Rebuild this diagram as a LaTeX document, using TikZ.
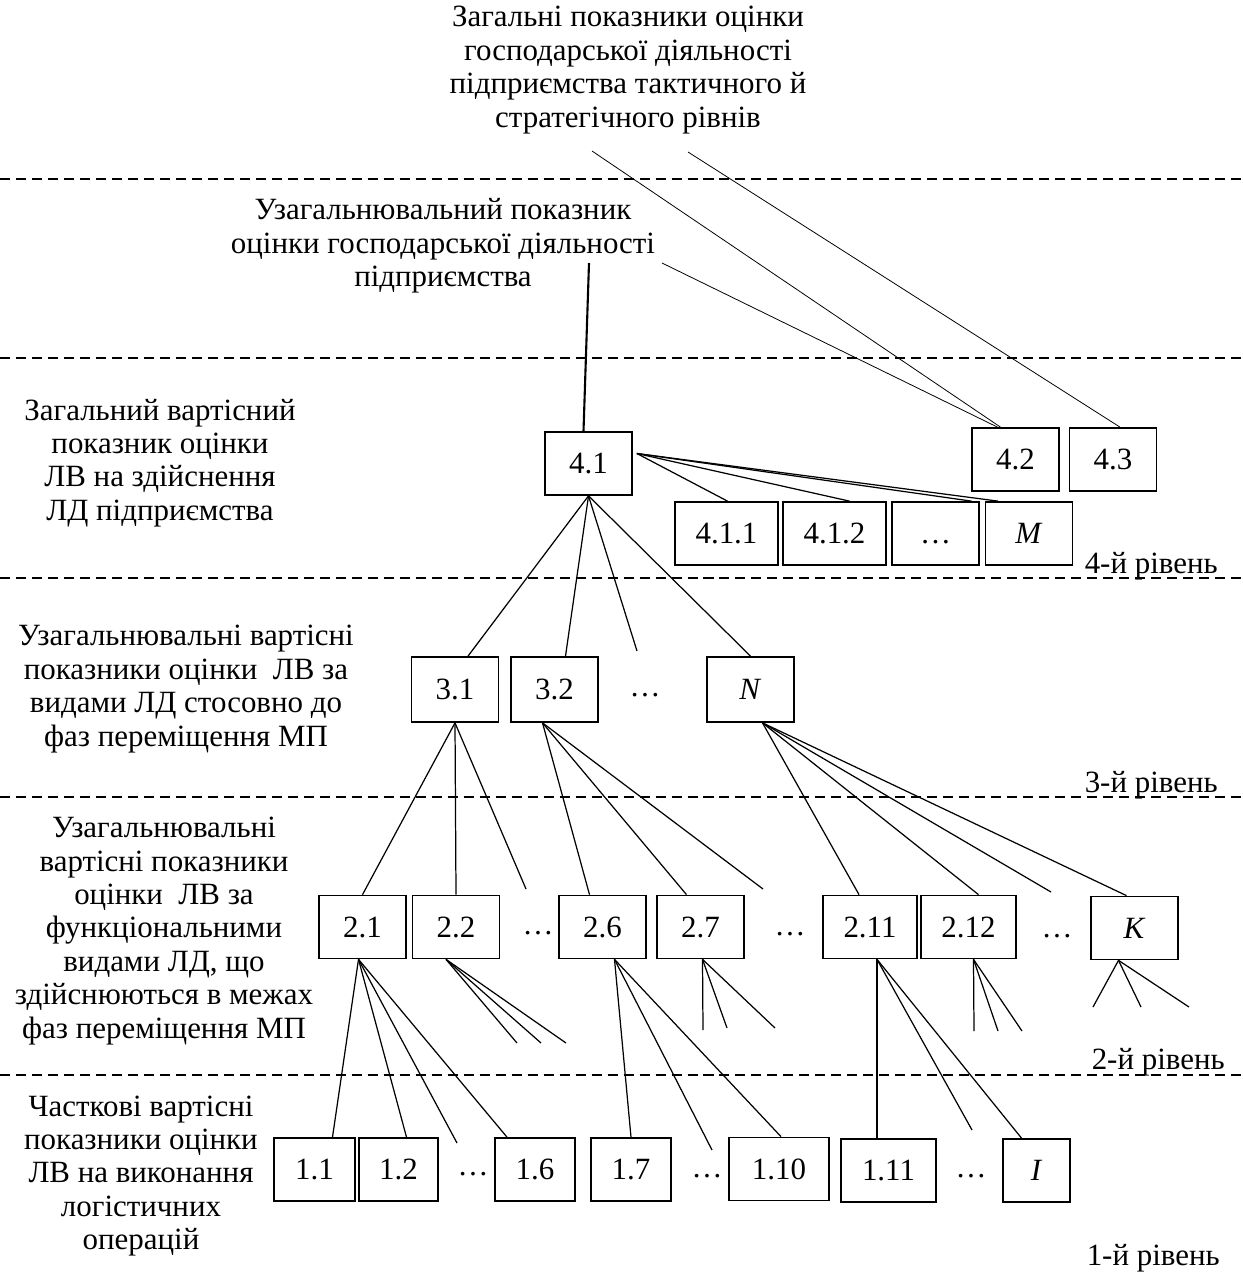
\documentclass[tikz,border=0pt]{standalone}
\usepackage{fontspec}
\setmainfont{Liberation Serif}
\usepackage{tikz}
\usetikzlibrary{calc}

\tikzset{
  box/.style={draw, line width=1pt, minimum width=1.74cm, minimum height=1.26cm, inner sep=0pt, text height=11.5pt, text depth=0pt},
  lbl/.style={align=center, inner sep=0pt},
  lvl/.style={dash pattern=on 5.7pt off 3.4pt, line width=0.8pt},
  con/.style={line width=0.7pt},
  thn/.style={line width=0.45pt}
}

\begin{document}
\begin{tikzpicture}[x=0.02cm, y=-0.02cm, font=\fontsize{17.6}{19}\selectfont]
\useasboundingbox (0,0) rectangle (1242,1284);
\draw[lvl] (0,179) -- (1242,179);
\draw[lvl] (0,358) -- (1242,358);
\draw[lvl] (0,578) -- (1242,578);
\draw[lvl] (0,797) -- (1242,797);
\draw[lvl] (0,1075) -- (1242,1075);

\node[lbl] (top) at (628,70) {Загальні показники оцінки\\господарської діяльності\\підприємства тактичного й\\стратегічного рівнів};
\node[lbl] (mid) at (443,246) {Узагальнювальний показник\\оцінки господарської діяльності\\підприємства};
\node[lbl] (txt4) at (160,463) {Загальний вартісний\\показник оцінки\\ЛВ на здійснення\\ЛД підприємства};
\node[lbl] (txt3) at (186,689) {Узагальнювальні вартісні\\показники оцінки~ ЛВ за\\видами ЛД стосовно до\\фаз переміщення МП};
\node[lbl] (txt2) at (164,931) {Узагальнювальні\\вартісні показники\\оцінки~ ЛВ за\\функціональними\\видами ЛД, що\\здійснюються в межах\\фаз переміщення МП};
\node[lbl] (txt1) at (141,1176) {Часткові вартісні\\показники оцінки\\ЛВ на виконання\\логістичних\\операцій};

\node[lbl, anchor=base east] (r4) at (1218,573) {4-й рівень};
\node[lbl, anchor=base east] (r3) at (1218,792) {3-й рівень};
\node[lbl, anchor=base east] (r2) at (1225,1069) {2-й рівень};
\node[lbl, anchor=base east] (r1) at (1220,1265) {1-й рівень};

\node[box] (b41) at (588.5,463.5) {4.1};
\node[box] (b42) at (1015.5,459.5) {4.2};
\node[box] (b43) at (1113,459.5) {4.3};
\node[box, minimum width=2.06cm] (b411) at (726.5,533.5) {4.1.1};
\node[box, minimum width=2.06cm] (b412) at (834.5,533.5) {4.1.2};
\node[box] (b4d) at (935.5,533.5) {…};
\node[box] (bM) at (1029,533.5) {\textit{M}};

\node[box, minimum height=1.3cm] (b31) at (455,689.5) {3.1};
\node[box, minimum height=1.3cm] (b32) at (554.5,689.5) {3.2};
\node[lbl] (d3) at (645,695) {…};
\node[box, minimum height=1.3cm] (bN) at (750.5,689.5) {\textit{N}};

\node[box] (b21) at (362.5,927) {2.1};
\node[box] (b22) at (456,927) {2.2};
\node[lbl] (d21) at (538,933) {…};
\node[box] (b26) at (602.5,927) {2.6};
\node[box] (b27) at (700.5,927) {2.7};
\node[lbl] (d22) at (790,934) {…};
\node[box, minimum width=1.88cm] (b211) at (870,927) {2.11};
\node[box, minimum width=1.9cm] (b212) at (968.5,927) {2.12};
\node[lbl] (d23) at (1057,936) {…};
\node[box] (bK) at (1134.5,928) {\textit{K}};

\node[box, minimum width=1.62cm] (b11) at (314.5,1169.5) {1.1};
\node[box, minimum width=1.58cm] (b12) at (398.5,1169.5) {1.2};
\node[lbl] (d11) at (473,1174) {…};
\node[box, minimum width=1.6cm] (b16) at (535,1169.5) {1.6};
\node[box, minimum width=1.6cm] (b17) at (631,1169.5) {1.7};
\node[lbl] (d12) at (707,1176) {…};
\node[box, minimum width=2cm] (b110) at (779,1169) {1.10};
\node[box, minimum width=1.9cm] (b111) at (888.5,1170.5) {1.11};
\node[lbl] (d13) at (971,1176) {…};
\node[box, minimum width=1.34cm] (bI) at (1036.5,1170.5) {\textit{I}};

\coordinate (s1) at (592,151);
\coordinate (s2) at (688,152);
\coordinate (m1) at (589,263);
\coordinate (m2) at (662,263);
\coordinate (f41) at (637,651);
\coordinate (f31) at (526,889);
\coordinate (f32) at (763,889);
\coordinate (fN) at (1051,892);
\coordinate (f21) at (457,1143);
\coordinate (f22a) at (517,1043);
\coordinate (f22b) at (541,1043);
\coordinate (f22c) at (566,1043);
\coordinate (f26) at (712,1150);
\coordinate (f27a) at (703,1030);
\coordinate (f27b) at (727,1028);
\coordinate (f27c) at (775,1028);
\coordinate (f211) at (972,1130);
\coordinate (f212a) at (974,1031);
\coordinate (f212b) at (998,1031);
\coordinate (f212c) at (1022,1031);
\coordinate (fKa) at (1093,1007);
\coordinate (fKb) at (1141,1007);
\coordinate (fKc) at (1189,1007);

\draw[line width=1.2pt] (m1) -- ($(b41.north)+(-5,0)$);
\draw[thn] (m2) -- ($(b42.north)+(-18,0)$);
\draw[thn] (s1) -- ($(b42.north)+(-15,0)$);
\draw[thn] (s2) -- ($(b43.north)+(7,0)$);

\draw[con] ($(b41.east)+(4,-10)$) -- ($(b411.north)+(1,0)$);
\draw[con] ($(b41.east)+(4,-10)$) -- ($(b412.north)+(15,0)$);
\draw[con] ($(b41.east)+(4,-10)$) -- ($(b4d.north)+(36,0)$);
\draw[con] ($(b41.east)+(4,-10)$) -- ($(bM.north)+(-31,0)$);

\draw[con] (b41.south) -- ($(b31.north)+(13,0)$);
\draw[con] (b41.south) -- ($(b32.north)+(11,0)$);
\draw[con] (b41.south) -- (f41);
\draw[con] (b41.south) -- (bN.north);

\draw[con] (b31.south) -- (b21.north);
\draw[con] (b31.south) -- (b22.north);
\draw[con] (b31.south) -- (f31);
\draw[con] ($(b32.south)+(-12,0)$) -- ($(b26.north)+(-13,0)$);
\draw[con] ($(b32.south)+(-12,0)$) -- ($(b27.north)+(-14,0)$);
\draw[con] ($(b32.south)+(-12,0)$) -- (f32);
\draw[con] ($(bN.south)+(12,0)$) -- ($(b211.north)+(-11,0)$);
\draw[con] ($(bN.south)+(12,0)$) -- ($(b212.north)+(10,0)$);
\draw[con] ($(bN.south)+(12,0)$) -- (fN);
\draw[con] ($(bN.south)+(12,0)$) -- ($(bK.north)+(-8,0)$);

\draw[con] ($(b21.south)+(-4,0)$) -- ($(b11.north)+(18,0)$);
\draw[con] ($(b21.south)+(-4,0)$) -- ($(b12.north)+(8,0)$);
\draw[con] ($(b21.south)+(-4,0)$) -- (f21);
\draw[con] ($(b21.south)+(-4,0)$) -- ($(b16.north)+(-28,0)$);
\draw[con] ($(b22.south)+(-10,0)$) -- (f22a);
\draw[con] ($(b22.south)+(-10,0)$) -- (f22b);
\draw[con] ($(b22.south)+(-10,0)$) -- (f22c);
\draw[con] ($(b26.south)+(12,0)$) -- (b17.north);
\draw[con] ($(b26.south)+(12,0)$) -- (f26);
\draw[con] ($(b26.south)+(12,0)$) -- ($(b110.north)+(2,0)$);
\draw[con] ($(b27.south)+(2,0)$) -- (f27a);
\draw[con] ($(b27.south)+(2,0)$) -- (f27b);
\draw[con] ($(b27.south)+(2,0)$) -- (f27c);
\draw[con] ($(b211.south)+(7,0)$) -- ($(b111.north)+(-11.5,0)$);
\draw[con] ($(b211.south)+(7,0)$) -- (f211);
\draw[con] ($(b211.south)+(7,0)$) -- ($(bI.north)+(-15,0)$);
\draw[con] ($(b212.south)+(5,0)$) -- (f212a);
\draw[con] ($(b212.south)+(5,0)$) -- (f212b);
\draw[con] ($(b212.south)+(5,0)$) -- (f212c);
\draw[con] ($(bK.south)+(-16,0)$) -- (fKa);
\draw[con] ($(bK.south)+(-16,0)$) -- (fKb);
\draw[con] ($(bK.south)+(-16,0)$) -- (fKc);
\end{tikzpicture}
\end{document}
